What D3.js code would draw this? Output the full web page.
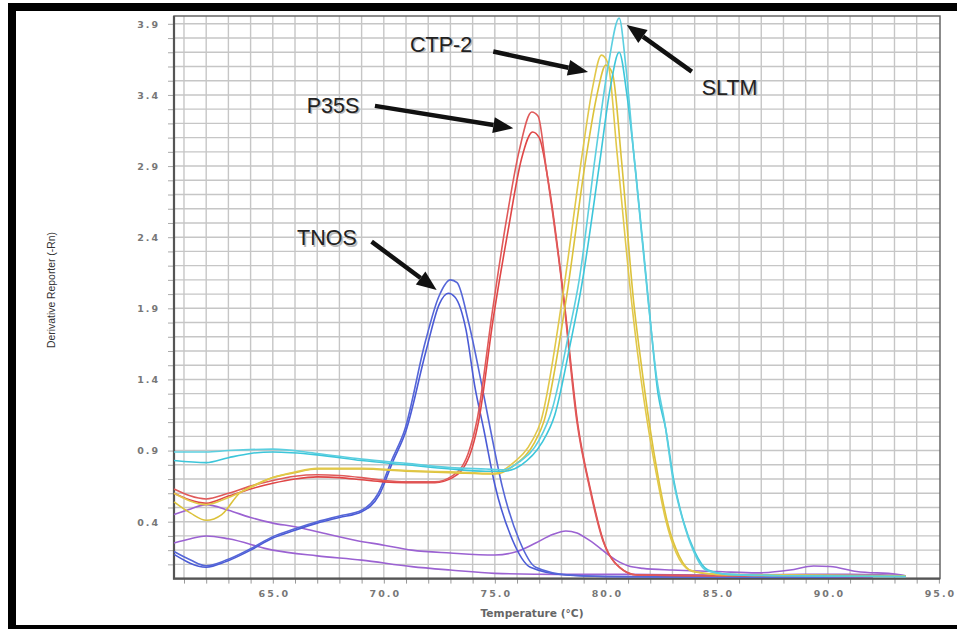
<!DOCTYPE html>
<html>
<head>
<meta charset="utf-8">
<script src="https://cdn.jsdelivr.net/npm/d3@7"></script>
<style>
  html, body { margin: 0; padding: 0; background: #fff; }
  svg { display: block; }
</style>
</head>
<body>
<svg id="chart" width="957" height="629"></svg>
<script>
/* Melt curve (derivative reporter vs temperature) — D3 line chart */

// ── Data ────────────────────────────────────────
const xTickLabels = [65, 70, 75, 80, 85, 90, 95];
const yTickLabels = [0.4, 0.9, 1.4, 1.9, 2.4, 2.9, 3.4, 3.9];

// [temperature °C, -Rn']
const sltmHi = [[60.55,0.89],[62,0.89],[63,0.90],[65,0.91],[67,0.88],[69,0.84],[71,0.81],[73,0.78],[74.6,0.77],[75.4,0.765],
  [76.1,0.82],[77.0,0.975],[77.6,1.2],[78.3,1.7],[78.8,2.1],[79.55,3.0],[80.1,3.6],[80.6,3.94],[80.9,3.6],[81.25,3.0],
  [81.9,1.96],[82.3,1.4],[82.65,1.1],[83.0,0.72],[83.47,0.41],[83.93,0.2],[84.5,0.06],[85.5,0.03],[88,0.02],[93.5,0.015]];
const sltmLo = [[60.55,0.83],[62,0.815],[63,0.85],[64,0.88],[65,0.89],[67,0.87],[69,0.83],[71,0.80],[73,0.77],[74.6,0.755],[75.4,0.755],
  [76.2,0.80],[77.1,0.95],[77.7,1.15],[78.4,1.65],[78.9,2.05],[79.7,2.9],[80.2,3.45],[80.6,3.70],[80.95,3.4],[81.35,2.85],
  [81.95,1.9],[82.35,1.3],[82.7,1.05],[83.05,0.70],[83.5,0.40],[84,0.19],[84.6,0.06],[85.5,0.03],[88,0.02],[93.5,0.015]];

const ctpHi = [[60.55,0.60],[62,0.52],[63,0.57],[64,0.64],[65,0.71],[66,0.75],[67,0.775],[69,0.775],[71,0.76],[73,0.75],[75,0.74],
  [75.8,0.81],[76.7,0.975],[77.06,1.1],[78.05,1.98],[78.95,3.0],[79.4,3.45],[79.8,3.68],[80.1,3.62],[80.5,3.0],[81.15,1.96],
  [81.5,1.5],[81.85,1.12],[82.27,0.74],[82.7,0.41],[83.17,0.18],[83.78,0.06],[85,0.03],[88,0.025],[93.5,0.02]];
const ctpLo = [[60.55,0.54],[61.3,0.46],[62,0.41],[62.7,0.45],[63.5,0.60],[64.2,0.66],[65,0.71],[66,0.745],[67,0.77],[69,0.77],[71,0.755],
  [73,0.745],[75,0.735],[75.9,0.80],[76.8,0.96],[77.2,1.1],[78.2,1.95],[79.1,2.95],[79.6,3.4],[80.0,3.61],[80.3,3.55],[80.7,2.95],
  [81.25,1.95],[81.6,1.5],[81.95,1.1],[82.35,0.72],[82.8,0.38],[83.3,0.16],[83.9,0.05],[85,0.03],[88,0.025],[93.5,0.02]];

const p35sHi = [[60.55,0.63],[62,0.56],[63,0.60],[64,0.65],[65,0.69],[66,0.72],[67,0.73],[68,0.725],[69,0.71],[70,0.69],[71,0.68],
  [72.3,0.68],[73.07,0.72],[73.8,0.88],[74.2,1.115],[74.9,1.89],[75.5,2.5],[76.1,3.01],[76.66,3.28],[76.95,3.25],[77.3,2.9],
  [78.05,2.03],[78.7,1.1],[79.25,0.65],[79.86,0.27],[80.6,0.08],[81.4,0.025],[85,0.02],[92,0.015]];
const p35sLo = [[60.55,0.60],[62,0.53],[63,0.58],[64,0.63],[65,0.67],[66,0.70],[67,0.715],[68,0.71],[69,0.695],[70,0.68],[71,0.675],
  [72.3,0.675],[73.1,0.71],[73.85,0.86],[74.25,1.09],[74.95,1.85],[75.6,2.45],[76.2,2.95],[76.7,3.14],[77.0,3.1],[77.4,2.8],
  [78.1,1.98],[78.75,1.07],[79.3,0.63],[79.9,0.26],[80.65,0.075],[81.4,0.025],[85,0.02],[92,0.015]];

const tnosHi = [[60.55,0.19],[61.3,0.13],[62,0.09],[62.9,0.13],[64,0.21],[65,0.295],[66,0.35],[67,0.40],[68,0.44],[69,0.48],
  [69.75,0.60],[70.35,0.83],[70.95,1.05],[71.86,1.66],[72.47,1.98],[73.0,2.10],[73.3,2.08],[73.82,1.80],[74.4,1.37],[74.8,1.05],
  [75.33,0.65],[76.1,0.27],[76.84,0.08],[78.35,0.025],[80,0.015],[85,0.01],[92,0.01]];
const tnosLo = [[60.55,0.17],[62,0.08],[62.9,0.12],[64,0.20],[65,0.285],[66,0.34],[67,0.39],[68,0.43],[69,0.47],[69.8,0.59],
  [70.4,0.82],[71.0,1.04],[71.9,1.6],[72.5,1.93],[72.9,2.006],[73.2,1.98],[73.7,1.75],[74.1,1.35],[74.5,1.05],[75.0,0.66],
  [75.8,0.27],[76.6,0.08],[78.2,0.025],[80,0.015],[85,0.01],[92,0.01]];

const bgA = [[60.55,0.45],[61.3,0.49],[62,0.52],[63,0.48],[64,0.43],[65,0.39],[66,0.365],[67,0.33],[68.7,0.27],[70,0.235],
  [71.26,0.2],[73,0.18],[75,0.166],[76,0.19],[76.84,0.25],[77.6,0.31],[78.2,0.335],[78.7,0.32],[79.25,0.27],[80.46,0.13],
  [81,0.09],[81.67,0.072],[83,0.06],[85,0.05],[86.8,0.04],[88.3,0.06],[89.36,0.089],[90.1,0.085],[91.3,0.05],[93.1,0.03],[93.5,0.02]];
const bgB = [[60.55,0.25],[61.3,0.28],[62,0.30],[63,0.28],[65,0.20],[67,0.16],[69,0.13],[71.26,0.084],[73,0.06],[75,0.037],
  [78,0.03],[81,0.03],[85,0.025],[89,0.03],[91,0.03],[93.5,0.02]];

const seriesList = [
  { name: 'bgB',    data: bgB,    color: '#9b62d2' },
  { name: 'bgA',    data: bgA,    color: '#9b62d2' },
  { name: 'tnosLo', data: tnosLo, color: '#4b5bd6' },
  { name: 'tnosHi', data: tnosHi, color: '#5566d8' },
  { name: 'p35sLo', data: p35sLo, color: '#e04646' },
  { name: 'p35sHi', data: p35sHi, color: '#e05a5a' },
  { name: 'ctpLo',  data: ctpLo,  color: '#dcc23a' },
  { name: 'ctpHi',  data: ctpHi,  color: '#e2c84a' },
  { name: 'sltmLo', data: sltmLo, color: '#3cc6da' },
  { name: 'sltmHi', data: sltmHi, color: '#5ccfe0' },
];

// annotation: label, text anchor point, arrow tail, arrow tip (data units)
const notes = [
  { label: 'CTP-2', text: [71.18, 3.705], tail: [74.93, 3.705], tip: [79.2, 3.562] },
  { label: 'P35S',  text: [66.53, 3.274], tail: [69.60, 3.323], tip: [75.83, 3.166] },
  { label: 'TNOS',  text: [66.09, 2.345], tail: [69.45, 2.369], tip: [72.38, 2.029] },
  { label: 'SLTM',  text: [84.32, 3.40],  tail: [83.87, 3.564], tip: [80.94, 3.892] },
];

// ── Setup ────────────────────────────────────────
const svg = d3.select('#chart');
const pLeft = 174, pRight = 940, pTop = 16, pBottom = 578.6;

const x = d3.scaleLinear().domain([60.55, 95.05]).range([pLeft, pRight]);
const y = d3.scaleLinear().domain([0, 3.955]).range([pBottom, pTop]);

svg.append('rect').attr('width', 957).attr('height', 629).attr('fill', '#fff');

// ── Grid ─────────────────────────────────────────
const grid = svg.append('g').attr('stroke', '#c6c6c6').attr('stroke-width', 1.4);
grid.selectAll('.vg').data(d3.range(61, 95)).enter().append('line')
  .attr('x1', d => x(d)).attr('x2', d => x(d)).attr('y1', pTop).attr('y2', pBottom);
grid.selectAll('.hg').data(d3.range(1, 40).map(i => i / 10)).enter().append('line')
  .attr('y1', d => y(d)).attr('y2', d => y(d)).attr('x1', pLeft).attr('x2', pRight);

// ── Axes ─────────────────────────────────────────
const minorX = d3.axisBottom(x).tickValues(d3.range(61, 96)).tickSize(5).tickFormat('');
svg.append('g').attr('transform', `translate(0,${pBottom})`).call(minorX)
  .call(g => g.select('.domain').remove())
  .selectAll('line').attr('stroke', '#999');

const minorY = d3.axisLeft(y).tickValues(d3.range(1, 40).map(i => i / 10)).tickSize(6).tickFormat('');
svg.append('g').attr('transform', `translate(${pLeft},0)`).call(minorY)
  .call(g => g.select('.domain').remove())
  .selectAll('line').attr('stroke', '#aaa');

const labelFont = g => g.selectAll('text')
  .attr('font-family', '"DejaVu Sans", sans-serif')
  .attr('font-size', 9.5)
  .attr('font-weight', 'bold')
  .attr('letter-spacing', 2)
  .attr('fill', '#777');

svg.append('g').attr('transform', `translate(0,${pBottom})`)
  .call(d3.axisBottom(x).tickValues(xTickLabels).tickSize(0).tickPadding(12).tickFormat(d3.format('.1f')))
  .call(g => g.select('.domain').remove())
  .call(labelFont)
  .selectAll('text').attr('dx', 1);

svg.append('g').attr('transform', `translate(${pLeft},0)`)
  .call(d3.axisLeft(y).tickValues(yTickLabels).tickSize(0).tickPadding(14).tickFormat(d3.format('.1f')))
  .call(g => g.select('.domain').remove())
  .call(labelFont)
  .selectAll('text').attr('dy', '0.35em');

// plot frame
svg.append('rect').attr('x', pLeft).attr('y', pTop).attr('width', pRight - pLeft).attr('height', pBottom - pTop)
  .attr('fill', 'none').attr('stroke', '#666').attr('stroke-width', 1.5);
svg.append('path').attr('d', `M${pLeft},${pTop}V${pBottom}H${pRight}`)
  .attr('fill', 'none').attr('stroke', '#555').attr('stroke-width', 2.2);

// axis titles
svg.append('text')
  .attr('transform', `translate(55,290) rotate(-90)`)
  .attr('text-anchor', 'middle')
  .attr('font-family', '"Liberation Sans Narrow", "Liberation Sans", sans-serif')
  .attr('font-size', 11)
  .attr('fill', '#333')
  .attr('textLength', 116).attr('lengthAdjust', 'spacingAndGlyphs')
  .text('Derivative Reporter (-Rn)');

svg.append('text')
  .attr('x', 532).attr('y', 617)
  .attr('text-anchor', 'middle')
  .attr('font-family', '"DejaVu Sans", sans-serif')
  .attr('font-size', 10)
  .attr('font-weight', 'bold')
  .attr('fill', '#666')
  .attr('textLength', 103).attr('lengthAdjust', 'spacingAndGlyphs')
  .text('Temperature (°C)');

// ── Curves ───────────────────────────────────────
const line = d3.line().x(d => x(d[0])).y(d => y(d[1])).curve(d3.curveMonotoneX);
svg.append('g').attr('fill', 'none').attr('stroke-width', 1.6).attr('stroke-linejoin', 'round')
  .selectAll('path').data(seriesList).enter().append('path')
  .attr('d', d => line(d.data))
  .attr('stroke', d => d.color);

// ── Annotations ──────────────────────────────────
const ann = svg.append('g');
notes.forEach(n => {
  const [tx, ty] = [x(n.text[0]), y(n.text[1])];
  ann.append('text').attr('x', tx + 1.5).attr('y', ty + 1.5)
    .attr('font-family', '"Liberation Sans", Arial, sans-serif').attr('font-size', 21.5)
    .attr('fill', '#bbb').text(n.label);
  ann.append('text').attr('x', tx).attr('y', ty)
    .attr('font-family', '"Liberation Sans", Arial, sans-serif').attr('font-size', 21.5)
    .attr('fill', '#222').text(n.label);

  const x0 = x(n.tail[0]), y0 = y(n.tail[1]);
  const x1 = x(n.tip[0]),  y1 = y(n.tip[1]);
  const ang = Math.atan2(y1 - y0, x1 - x0);
  const headLen = 20, headHalf = 8;
  const bx = x1 - headLen * Math.cos(ang), by = y1 - headLen * Math.sin(ang);
  ann.append('line').attr('x1', x0).attr('y1', y0).attr('x2', bx).attr('y2', by)
    .attr('stroke', '#111').attr('stroke-width', 4.5);
  const px = -Math.sin(ang) * headHalf, py = Math.cos(ang) * headHalf;
  ann.append('path')
    .attr('d', `M${x1},${y1}L${bx + px},${by + py}L${bx - px},${by - py}Z`)
    .attr('fill', '#111');
});

// ── Outer black frame (right edge runs off the picture) ──
svg.append('rect').attr('x', 12).attr('y', 7).attr('width', 990).attr('height', 622)
  .attr('fill', 'none').attr('stroke', '#000').attr('stroke-width', 8);
</script>
</body>
</html>
